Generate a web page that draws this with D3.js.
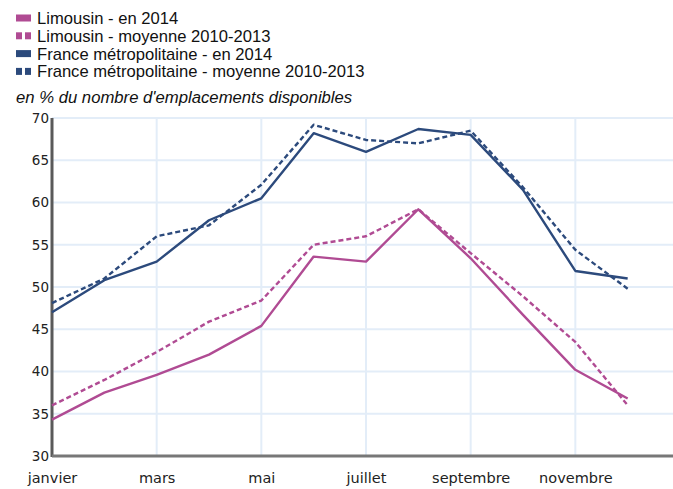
<!DOCTYPE html>
<html>
<head>
<meta charset="utf-8">
<script src="https://cdn.jsdelivr.net/npm/d3@7"></script>
<style>
  body { margin: 0; background: #fff; }
  svg { display: block; font-family: "Liberation Sans", Arial, sans-serif; }
</style>
</head>
<body>
<svg id="chart" width="673" height="489"></svg>
<script>
// DATA
const months = ["janvier", "février", "mars", "avril", "mai", "juin", "juillet",
  "août", "septembre", "octobre", "novembre", "décembre"];
const tickMonths = ["janvier", "mars", "mai", "juillet", "septembre", "novembre"];
const yTicks = [30, 35, 40, 45, 50, 55, 60, 65, 70];

const limousin2014 = [34.3, 37.5, 39.6, 42.0, 45.4, 53.6, 53.0, 59.2, 53.4, 46.7, 40.2, 36.8];
const limousinMoy = [36.0, 39.0, 42.3, 45.9, 48.4, 55.0, 56.0, 59.2, 54.0, 48.9, 43.5, 36.0];
const france2014 = [47.0, 50.8, 53.0, 57.9, 60.5, 68.2, 66.0, 68.7, 68.0, 61.5, 51.9, 51.0];
const franceMoy = [48.1, 51.0, 56.0, 57.3, 62.1, 69.2, 67.4, 67.0, 68.5, 61.8, 54.4, 49.8];

const series = [
  { name: "Limousin - en 2014", values: limousin2014, color: "#b04b93", dashed: false },
  { name: "Limousin - moyenne 2010-2013", values: limousinMoy, color: "#b04b93", dashed: true },
  { name: "France métropolitaine - en 2014", values: france2014, color: "#2c4a7c", dashed: false },
  { name: "France métropolitaine - moyenne 2010-2013", values: franceMoy, color: "#2c4a7c", dashed: true },
];

// CANVAS SETUP
const svg = d3.select("#chart");
const margin = { top: 118, left: 52, bottom: 456 };

const x = d3.scalePoint().domain(months.concat(["_"])).range([margin.left, 680]);
const y = d3.scaleLinear().domain([30, 70]).range([margin.bottom, margin.top]);

// grid
svg.append("g")
  .selectAll("line")
  .data(yTicks.slice(1))
  .join("line")
  .attr("x1", margin.left).attr("x2", 673)
  .attr("y1", (d) => y(d)).attr("y2", (d) => y(d))
  .attr("stroke", "#e3edf8").attr("stroke-width", 2);

svg.append("g")
  .selectAll("line")
  .data(tickMonths.slice(1))
  .join("line")
  .attr("x1", (d) => x(d)).attr("x2", (d) => x(d))
  .attr("y1", margin.top).attr("y2", margin.bottom)
  .attr("stroke", "#e3edf8").attr("stroke-width", 2);

// axes
const yAxis = svg.append("g")
  .attr("transform", `translate(${margin.left},0)`)
  .call(d3.axisLeft(y).tickValues(yTicks).tickSize(0).tickPadding(3));
yAxis.select(".domain").remove();
yAxis.selectAll("text")
  .attr("fill", "#222")
  .style("font-family", "'DejaVu Sans', sans-serif").attr("font-size", 13.5);

const xAxis = svg.append("g")
  .attr("transform", `translate(0,${margin.bottom})`)
  .call(d3.axisBottom(x).tickValues(tickMonths).tickSize(0).tickPadding(17));
xAxis.select(".domain").remove();
xAxis.selectAll("text")
  .attr("fill", "#222")
  .style("font-family", "'DejaVu Sans', sans-serif").attr("font-size", 14.5);

svg.append("line")
  .attr("x1", margin.left).attr("x2", margin.left)
  .attr("y1", margin.top).attr("y2", margin.bottom + 1)
  .attr("stroke", "#5a5a5a").attr("stroke-width", 3);
svg.append("line")
  .attr("x1", margin.left).attr("x2", 673)
  .attr("y1", margin.bottom).attr("y2", margin.bottom)
  .attr("stroke", "#777").attr("stroke-width", 3);

// lines
const line = d3.line()
  .x((d, i) => x(months[i]))
  .y((d) => y(d));

svg.append("g")
  .selectAll("path")
  .data(series)
  .join("path")
  .attr("d", (d) => line(d.values))
  .attr("fill", "none")
  .attr("stroke", (d) => d.color)
  .attr("stroke-width", 2.4)
  .attr("stroke-linejoin", "round")
  .attr("stroke-dasharray", (d) => (d.dashed ? "5,3" : null));

// legend
const legend = svg.append("g")
  .selectAll("g")
  .data(series)
  .join("g")
  .attr("transform", (d, i) => `translate(0,${17.5 + i * 17.8})`);

legend.each(function (d) {
  const g = d3.select(this);
  if (d.dashed) {
    g.append("rect").attr("x", 16).attr("y", -3).attr("width", 6).attr("height", 7).attr("fill", d.color);
    g.append("rect").attr("x", 25).attr("y", -3).attr("width", 6).attr("height", 7).attr("fill", d.color);
  } else {
    g.append("rect").attr("x", 16).attr("y", -3).attr("width", 15).attr("height", 7).attr("fill", d.color);
  }
});

legend.append("text")
  .attr("x", 37).attr("y", 6.5)
  .attr("font-size", 16.6).attr("fill", "#111")
  .attr("textLength", (d, i) => null)
  .text((d) => d.name);

svg.append("text")
  .attr("x", 16).attr("y", 103)
  .attr("font-size", 16.7).attr("font-style", "italic").attr("fill", "#111")
  .text("en % du nombre d'emplacements disponibles");
</script>
</body>
</html>
